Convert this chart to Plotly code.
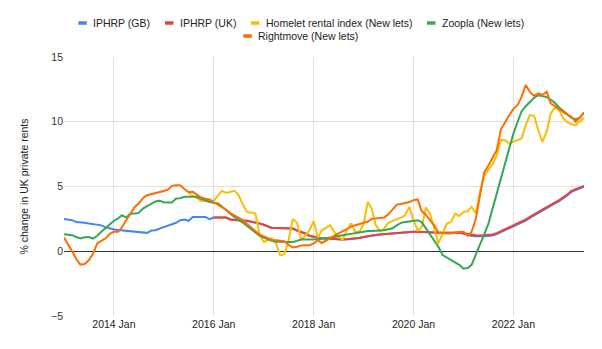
import pandas as pd
import plotly.graph_objects as go

# ---------------- data (monthly, % change) ----------------
start_all = "2013-01-01"
start_uk = "2016-01-01"
start_homelet = "2015-07-01"

series_names = ["IPHRP (GB)", "IPHRP (UK)", "Homelet rental index (New lets)",
                "Zoopla (New lets)", "Rightmove (New lets)"]
series_colors = ["#4285F4", "#EA4335", "#FBBC04", "#34A853", "#FF6D01"]

iphrp_gb = [
    2.5, 2.45, 2.4, 2.25, 2.25, 2.2, 2.15, 2.1, 2.06, 2.0,
    1.85, 1.75, 1.68, 1.65, 1.62, 1.6, 1.57, 1.55, 1.5, 1.45,
    1.42, 1.6, 1.62, 1.75, 1.85, 1.95, 2.06, 2.2, 2.4, 2.45,
    2.35, 2.65, 2.65, 2.65, 2.65, 2.47,
    2.6, 2.6, 2.6, 2.6, 2.45, 2.4, 2.35, 2.35, 2.35, 2.3,
    2.25, 2.15, 2.05, 1.9, 1.8, 1.8, 1.8, 1.8, 1.8, 1.75,
    1.6, 1.5, 1.37, 1.2,
    1.1, 1.05, 1.0, 0.98, 0.95, 0.92, 0.9, 0.9, 0.92, 0.95,
    0.98, 1.03, 1.1, 1.17, 1.22, 1.26, 1.3, 1.33, 1.36, 1.38,
    1.4, 1.42, 1.45, 1.5, 1.5, 1.5, 1.5, 1.5, 1.48, 1.45,
    1.43, 1.42, 1.42, 1.42, 1.42, 1.45,
    1.34, 1.22, 1.18, 1.16, 1.14, 1.16, 1.18, 1.21, 1.32, 1.47,
    1.62, 1.77, 1.92, 2.07, 2.19, 2.37, 2.57, 2.77, 2.96, 3.12,
    3.32, 3.52, 3.69, 3.87, 4.07, 4.32, 4.58, 4.72, 4.87, 4.98,
]

iphrp_uk = [
    2.6, 2.6, 2.6, 2.6, 2.45, 2.4, 2.35, 2.35, 2.35, 2.3,
    2.25, 2.15, 2.05, 1.9, 1.8, 1.8, 1.8, 1.8, 1.8, 1.75,
    1.6, 1.5, 1.37, 1.2,
    1.1, 1.05, 1.0, 0.98, 0.95, 0.92, 0.9, 0.9, 0.92, 0.95,
    0.98, 1.03, 1.1, 1.17, 1.22, 1.26, 1.3, 1.33, 1.36, 1.38,
    1.4, 1.42, 1.45, 1.5, 1.5, 1.5, 1.5, 1.5, 1.48, 1.45,
    1.43, 1.42, 1.42, 1.42, 1.42, 1.45,
    1.4, 1.3, 1.26, 1.24, 1.22, 1.24, 1.26, 1.29, 1.4, 1.55,
    1.7, 1.85, 2.0, 2.15, 2.27, 2.45, 2.65, 2.85, 3.04, 3.2,
    3.4, 3.6, 3.77, 3.95, 4.15, 4.4, 4.66, 4.8, 4.95, 5.05,
]

homelet = [
    4.5, 4.3, 4.1, 3.9, 3.89, 3.89, 3.89, 4.3, 4.66, 4.5,
    4.55, 4.66, 4.33, 3.6, 3.04, 3.0, 2.91, 1.3, 0.72, 0.85,
    1.0, 0.6, -0.31, -0.23, 0.85, 2.5, 2.2, 0.9, 1.2, 1.62,
    2.32, 1.06, 1.6, 1.8, 2.01, 1.5, 1.1, 0.9, 1.62, 2.14,
    1.5, 1.5, 2.1, 3.81, 3.3, 2.01, 1.57, 1.75, 2.2, 2.35,
    2.45, 2.6, 2.78, 3.43, 2.4, 1.62, 1.88, 3.38, 2.91, 1.62,
    0.6, 1.37, 2.14, 2.27, 2.91, 2.73, 3.04, 3.09, 3.43, 2.91,
    4.59, 5.8, 6.3, 6.7, 7.4, 8.6, 8.58, 8.33, 8.45, 8.58,
    8.71, 9.74, 10.52, 10.46, 9.36, 8.45, 9.23, 10.65, 11.11, 10.9,
    10.26, 9.95, 9.8, 9.74, 10.0, 10.3,
]

zoopla = [
    1.31, 1.3, 1.24, 1.1, 0.98, 1.08, 1.1, 0.98, 1.2, 1.5,
    1.8, 2.1, 2.35, 2.55, 2.78, 2.6, 2.9, 2.92, 2.96, 3.3,
    3.5, 3.7, 3.85, 3.89, 3.78, 3.76, 3.76, 4.07, 4.1, 4.2,
    4.2, 4.22, 4.2, 4.05, 3.9, 3.8, 3.75, 3.69, 3.45, 3.15,
    2.9, 2.65, 2.45, 2.2, 1.95, 1.7, 1.45, 1.2, 1.05, 0.9,
    0.8, 0.73, 0.72, 0.72, 0.72, 0.72, 0.8, 0.9, 0.9, 0.9,
    0.9, 0.92, 0.96, 1.0, 1.03, 1.1, 1.18, 1.25, 1.3, 1.35,
    1.4, 1.45, 1.52, 1.57, 1.57, 1.57, 1.57, 1.62, 1.7, 1.78,
    2.0, 2.19, 2.25, 2.3, 2.38, 2.4, 2.25, 1.75, 1.25, 0.8,
    0.35, -0.3, -0.5, -0.65, -0.85, -1.05, -1.35, -1.3, -1.05, -0.3,
    0.5, 1.3, 2.1, 3.3, 4.5, 5.7, 6.9, 8.1, 9.1, 10.0,
    10.8, 11.2, 11.55, 11.85, 12.05, 12.0, 11.9, 11.7, 11.45, 11.1,
    10.8, 10.55, 10.3, 10.2, 10.3, 10.7,
]

rightmove = [
    1.06, 0.55, 0.0, -0.6, -1.03, -0.98, -0.7, -0.2, 0.6, 0.8,
    1.0, 1.35, 1.5, 1.5, 1.85, 2.4, 2.9, 3.4, 3.69, 4.1,
    4.33, 4.4, 4.5, 4.55, 4.65, 4.77, 5.05, 5.1, 5.1, 4.8,
    4.55, 4.59, 4.4, 4.15, 4.05, 4.0, 3.8, 3.6, 3.43, 3.2,
    2.95, 2.75, 2.55, 2.4, 2.1, 1.85, 1.6, 1.3, 1.15, 1.0,
    0.87, 0.85, 0.82, 0.77, 0.5, 0.3, 0.35, 0.45, 0.46, 0.46,
    0.6, 0.85, 0.64, 0.8, 1.0, 1.2, 1.35, 1.55, 1.7, 1.9,
    2.01, 2.1, 2.2, 2.3, 2.5, 2.53, 2.53, 2.6, 2.85, 3.25,
    3.6, 3.65, 3.72, 3.8, 3.95, 4.0, 3.1, 2.8, 2.4, 2.0,
    1.45, 1.4, 1.38, 1.37, 1.45, 1.5, 1.5, 1.19, 1.5, 2.5,
    4.3, 6.1, 6.6, 7.2, 7.8, 9.4, 10.0, 10.5, 11.0, 11.3,
    11.9, 12.84, 12.3, 12.0, 12.2, 12.07, 12.32, 11.42, 11.2, 10.95,
    10.75, 10.55, 10.39, 10.0, 10.3, 10.73,
]

x_range = ["2013-01-01", "2023-06-01"]
y_range = [-5, 15]
y_title = "% change in UK private rents"

# ---------------- layout geometry (pixels) ----------------
W, H = 602, 349
M_L, M_R, M_T, M_B = 64, 18, 57, 33
PW, PH = W - M_L - M_R, H - M_T - M_B
FONT = "Liberation Sans, Arial, sans-serif"
FS = 10.5

# legend entries: (marker left px, row centre px)
legend_pos = [(78.3, 23), (165, 23), (251, 23), (427, 23), (243.3, 36)]


def px_to_paper_x(px):
    return (px - M_L) / PW


def px_to_paper_y(py):
    return (H - M_B - py) / PH


def months(start, n):
    return pd.date_range(start, periods=n, freq="MS")


series = [
    (iphrp_gb, start_all),
    (iphrp_uk, start_uk),
    (homelet, start_homelet),
    (zoopla, start_all),
    (rightmove, start_all),
]

fig = go.Figure()
for (vals, st), name, col in zip(series, series_names, series_colors):
    fig.add_trace(go.Scatter(
        x=months(st, len(vals)), y=vals, mode="lines", name=name,
        line=dict(color=col, width=2), showlegend=False,
        hoverinfo="skip"))

shapes, annotations = [], []
for (mx, my), name, col in zip(legend_pos, series_names, series_colors):
    shapes.append(dict(
        type="line", xref="paper", yref="paper",
        x0=px_to_paper_x(mx), x1=px_to_paper_x(mx + 8.5),
        y0=px_to_paper_y(my), y1=px_to_paper_y(my),
        line=dict(color=col, width=3.5)))
    annotations.append(dict(
        xref="paper", yref="paper", x=px_to_paper_x(mx + 13),
        y=px_to_paper_y(my), xanchor="left", yanchor="middle",
        text=name, showarrow=False,
        font=dict(family=FONT, size=FS, color="#222")))

fig.update_layout(
    width=W, height=H,
    margin=dict(l=M_L, r=M_R, t=M_T, b=M_B, autoexpand=False),
    plot_bgcolor="white", paper_bgcolor="white",
    font=dict(family=FONT, size=FS, color="#444"),
    showlegend=False,
    shapes=shapes, annotations=annotations,
    xaxis=dict(
        type="date", range=x_range, dtick="M24", tick0="2014-01-01",
        tickformat="%Y %b", showgrid=True, gridcolor="#e0e0e0", gridwidth=1,
        zeroline=False, showline=False, ticks="", fixedrange=True,
        tickfont=dict(size=FS, color="#222")),
    yaxis=dict(
        range=y_range, dtick=5, tick0=0, showgrid=True, gridcolor="#e0e0e0",
        gridwidth=1, zeroline=True, zerolinecolor="#333", zerolinewidth=1,
        showline=False, ticks="", fixedrange=True,
        tickfont=dict(size=FS, color="#333"),
        title=dict(text=y_title, standoff=20,
                   font=dict(size=FS, color="#222"))),
)

fig.write_html("out.html")
